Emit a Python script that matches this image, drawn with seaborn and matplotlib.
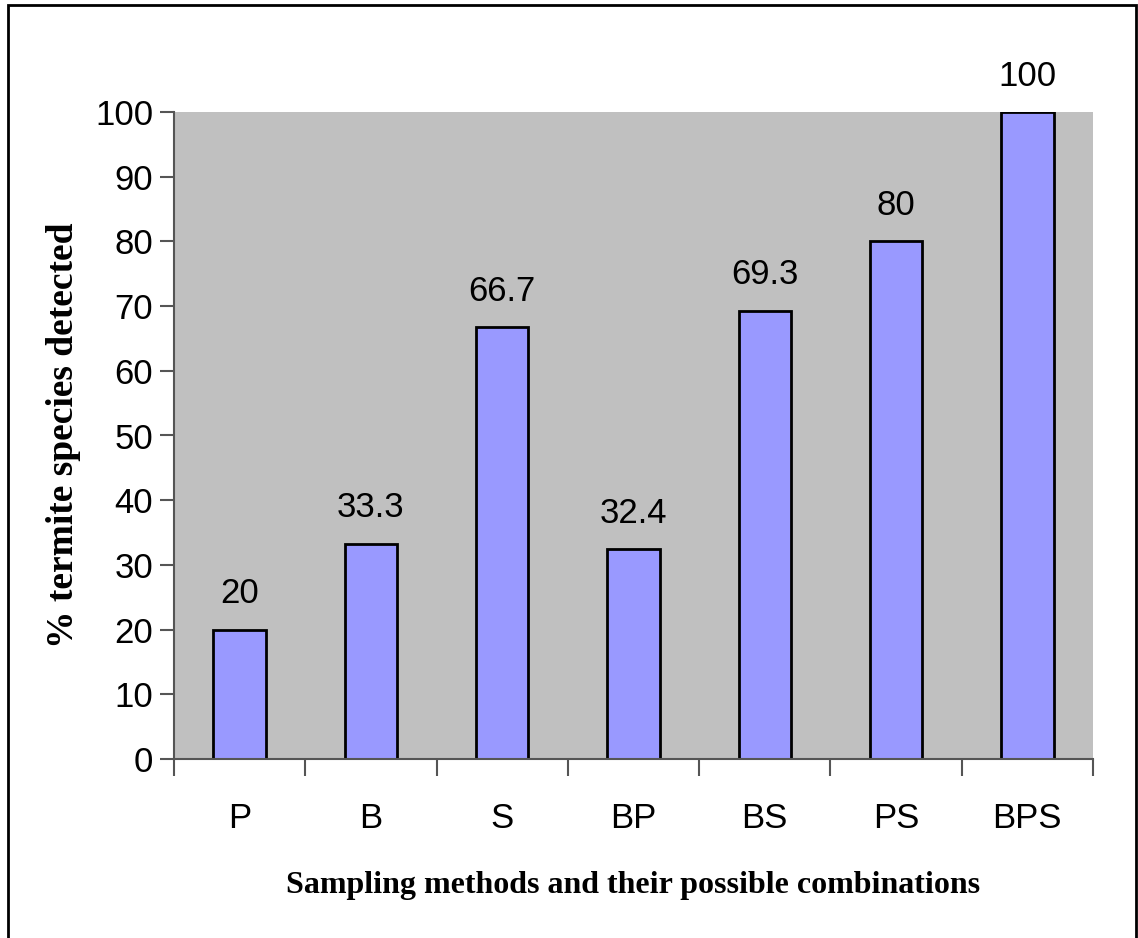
import matplotlib
matplotlib.use("Agg")
import matplotlib.pyplot as plt
from matplotlib.patches import Rectangle
import numpy as np
import pandas as pd
import seaborn as sns

methods = ['P', 'B', 'S', 'BP', 'BS', 'PS', 'BPS']
detected = [20, 33.3, 66.7, 32.4, 69.3, 80, 100]
value_labels = ['20', '33.3', '66.7', '32.4', '69.3', '80', '100']

df = pd.DataFrame({'method': methods, 'pct': detected})

sns.set_style('white')
plt.rcParams['font.family'] = ['Liberation Sans', 'DejaVu Sans']
plt.rcParams['text.color'] = 'black'
plt.rcParams['axes.labelcolor'] = 'black'
plt.rcParams['xtick.labelcolor'] = 'black'
plt.rcParams['ytick.labelcolor'] = 'black'

fig = plt.figure(figsize=(11.38, 9.38), dpi=100)
ax = fig.add_axes([174 / 1138, 1 - 759 / 938, (1093 - 174) / 1138, (759 - 112) / 938])

sns.barplot(data=df, x='method', y='pct', color='#9999FF', edgecolor='black',
            linewidth=2, width=0.4, saturation=1, ax=ax)

ax.set_facecolor('#C0C0C0')
ax.set_xlim(-0.5, len(methods) - 0.5)
ax.set_ylim(0, 100)
ax.set_yticks(np.arange(0, 101, 10))

for i, (v, lab) in enumerate(zip(detected, value_labels)):
    ax.text(i, v + 3, lab, ha='center', va='bottom', fontsize=25)

for side in ['top', 'right']:
    ax.spines[side].set_visible(False)
for side in ['left', 'bottom']:
    ax.spines[side].set_color('#555555')
    ax.spines[side].set_linewidth(1.5)

ax.tick_params(axis='y', length=10, width=1.5, color='#555555', labelsize=25, pad=5, left=True)
ax.set_xticks(np.arange(-0.5, len(methods), 1), minor=True)
ax.tick_params(axis='x', which='minor', length=12, width=1.5, color='#555555', bottom=True)
ax.tick_params(axis='x', which='major', length=0, labelsize=25, pad=31)

ax.set_xlabel('Sampling methods and their possible combinations',
              family='Liberation Serif', fontweight='bold', fontsize=23, labelpad=26)
ax.set_ylabel('% termite species detected',
              family='Liberation Serif', fontweight='bold', fontsize=27, labelpad=10)

fig.patches.append(Rectangle((8 / 1138, -0.01), (1136 - 8) / 1138, 1.01 - 5 / 938,
                             transform=fig.transFigure, fill=False,
                             edgecolor='black', linewidth=2))

fig.savefig('out.png', dpi=100)
